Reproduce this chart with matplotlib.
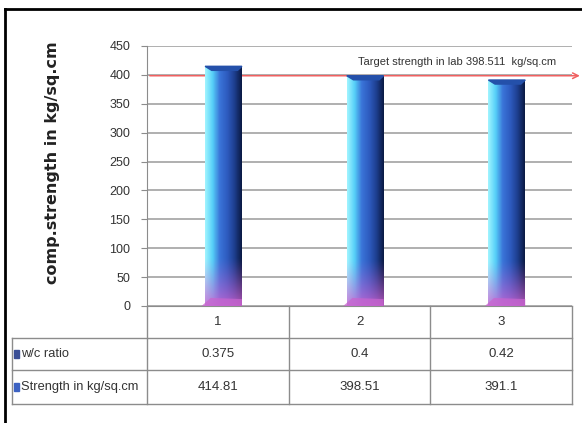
import numpy as np
import matplotlib
matplotlib.use("Agg")
import matplotlib.pyplot as plt
from matplotlib.lines import Line2D
from matplotlib.patches import Polygon, Rectangle
from matplotlib.colors import LinearSegmentedColormap

categories = ["1", "2", "3"]
wc_ratio = ["0.375", "0.4", "0.42"]
strength = [414.81, 398.51, 391.1]
strength_txt = ["414.81", "398.51", "391.1"]
target = 398.511
target_label = "Target strength in lab 398.511  kg/sq.cm"
row_labels = ["w/c ratio", "Strength in kg/sq.cm"]
yticks = list(range(0, 451, 50))

plt.rcParams["font.family"] = ["Liberation Sans", "DejaVu Sans"]

fig = plt.figure(figsize=(5.82, 4.23), dpi=100)
ax = fig.add_axes([0.2526, 0.2766, 0.7302, 0.6147])

x = np.arange(1, len(categories) + 1)
off = 0.04
w = 0.26

# horizontal colour ramp of the 3-D column, with a violet foot
hcols = LinearSegmentedColormap.from_list(
    "col", ["#a0f4ff", "#56d0f8", "#3a74d8", "#2e5cc0", "#1e3f90", "#0a1a44"])
nx, ny = 64, 200
h = hcols(np.linspace(0, 1, nx))[:, :3]
img = np.tile(h[None, :, :], (ny, 1, 1))
t = np.linspace(0, 1, ny)[:, None, None]  # 0 = bottom row
violet = np.array([0.82, 0.38, 0.82])[None, None, :]
mix = np.clip(1 - t / 0.2, 0, 1) ** 1.2
img = img * (1 - mix * 0.8) + violet * mix * 0.8
img = img[::-1]

bars = ax.bar(x + off, strength, w, color="none", edgecolor="none", zorder=3)
for b, v in zip(bars, strength):
    x0 = b.get_x()
    im = ax.imshow(img, extent=[x0, x0 + w, 0, v], aspect="auto", zorder=3,
                   interpolation="bilinear")
    im.set_clip_path(b)
    # top cap
    cap = Polygon([[x0, v], [x0 + w, v], [x0 + w * 0.88, v - 7],
                   [x0 + w * 0.18, v - 7]], closed=True, color="#2450aa", zorder=4)
    ax.add_patch(cap)
    # flared foot
    foot = Polygon([[x0 - 0.025, 0], [x0 + w, 0], [x0 + w, 12], [x0 + 0.04, 14]],
                   closed=True, color="#c865cf", zorder=4, alpha=0.75, lw=0)
    ax.add_patch(foot)

ax.set_xlim(0.5, len(categories) + 0.5)
ax.set_ylim(0, 450)
ax.set_yticks(yticks)
ax.set_yticklabels([str(v) for v in yticks], fontsize=9, color="#333333")
ax.set_xticks([])
ax.yaxis.grid(True, color="#9a9a9a", lw=1.1)
ax.set_axisbelow(True)
for s in ["top", "right"]:
    ax.spines[s].set_visible(False)
ax.spines["left"].set_color("#8c8c8c")
ax.spines["bottom"].set_color("#8c8c8c")
ax.tick_params(axis="y", length=4, color="#8c8c8c", pad=8)

ax.set_ylabel("comp.strength in kg/sq.cm", family="DejaVu Sans",
              fontweight="bold", fontsize=11.5, color="#222222")
ax.yaxis.set_label_coords(-0.205, 0.55)

# target line with arrow
ax.annotate("", xy=(1.025, target), xytext=(0, target),
            xycoords=ax.get_yaxis_transform(), textcoords=ax.get_yaxis_transform(),
            arrowprops=dict(arrowstyle="->", color="#f06060", lw=1.1), zorder=2,
            annotation_clip=False)
ax.text(0.497, 422, target_label, transform=ax.get_yaxis_transform(),
        fontsize=8, color="#333333", va="center", ha="left")

# data table
tr = ax.transAxes
col_edges = [-0.318, 0, 1 / 3, 2 / 3, 1]
row_edges = [0, -0.123, -0.246, -0.377]
lc = "#8c8c8c"
for yv in row_edges[1:]:
    ax.add_line(Line2D([col_edges[0], 1], [yv, yv], transform=tr, color=lc,
                       lw=1, clip_on=False))
for xv in col_edges:
    y_top = row_edges[0] if xv >= 0 else row_edges[1]
    ax.add_line(Line2D([xv, xv], [y_top, row_edges[-1]], transform=tr, color=lc,
                       lw=1, clip_on=False))

rows = [categories, wc_ratio, strength_txt]
for r, vals in enumerate(rows):
    yc = (row_edges[r] + row_edges[r + 1]) / 2
    for c, s in enumerate(vals):
        xc = (c + 0.5) / 3
        ax.text(xc, yc, s, transform=tr, ha="center", va="center",
                fontsize=9.5, color="#333333", clip_on=False)

marker_cols = ["#3b4f96", "#3d62c2"]
for r, lab in enumerate(row_labels):
    yc = (row_edges[r + 1] + row_edges[r + 2]) / 2
    ax.add_patch(Rectangle((-0.312, yc - 0.017), 0.011, 0.034, transform=tr,
                           color=marker_cols[r], clip_on=False))
    ax.text(-0.297, yc, lab, transform=tr, ha="left", va="center",
            fontsize=9.3, color="#333333", clip_on=False)

# outer frame (left and top edges visible)
fig.add_artist(Line2D([5 / 582, 5 / 582], [0, 1 - 9 / 423], color="black", lw=2))
fig.add_artist(Line2D([5 / 582, 1], [1 - 9 / 423, 1 - 9 / 423], color="black", lw=2))

fig.savefig("out.png", dpi=100)
